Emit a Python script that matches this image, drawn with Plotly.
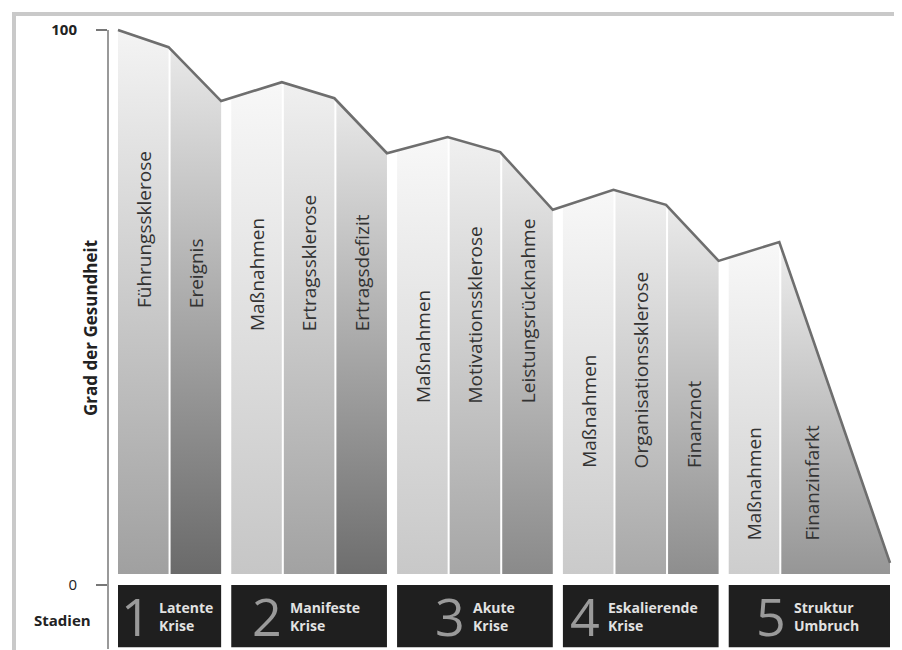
import numpy as np
import plotly.graph_objects as go

# ---------------- data ----------------
stage_numbers = ["1", "2", "3", "4", "5"]
stage_names = ["Latente<br>Krise", "Manifeste<br>Krise", "Akute<br>Krise",
               "Eskalierende<br>Krise", "Struktur<br>Umbruch"]
column_labels = ["Führungssklerose", "Ereignis",
                 "Maßnahmen", "Ertragssklerose", "Ertragsdefizit",
                 "Maßnahmen", "Motivationssklerose", "Leistungsrücknahme",
                 "Maßnahmen", "Organisationssklerose", "Finanznot",
                 "Maßnahmen", "Finanzinfarkt"]
column_stage = [0, 0, 1, 1, 1, 2, 2, 2, 3, 3, 3, 4, 4]
health_start = 100
health_end = [96.9, 87.2, 90.6, 87.7, 77.8, 80.7, 78.0, 67.6, 71.2, 68.5, 58.4, 61.8, 4.0]
label_level = [49.5, 45.4, 32.4, 20.7, 7.6]   # lower end of column labels, per stage
y_tick_vals = [0, 100]
y_tick_text = ["0", "<b>100</b>"]

# ---------------- style / layout constants ----------------
FONT = "Open Sans"
col_units = [1] * 12 + [2.15]
INNER_GAP, STAGE_GAP = 0.04, 0.2
BASE = 2.0
BOX_BOTTOM = -11.2
bottom_colors = ["#a0a0a0", "#6a6a6a",
                 "#c6c6c6", "#a2a2a2", "#6e6e6e",
                 "#c8c8c8", "#a6a6a6", "#8a8a8a",
                 "#cacaca", "#a8a8a8", "#8e8e8e",
                 "#cdcdcd", "#969696"]
top_colors = ["#f4f4f4", "#e8e8e8",
              "#f8f8f8", "#f0f0f0", "#e8e8e8",
              "#f8f8f8", "#f0f0f0", "#eaeaea",
              "#f8f8f8", "#f0f0f0", "#eaeaea",
              "#f8f8f8", "#ececec"]

OFF = 8                      # page body margin of the browser
W, H = 902 - OFF, 650 - OFF
ML, MR, MT, MB = 108 - OFF, 10, 25 - OFF, 1
YR = [-11.53, 100.9]

# column positions (computed from layout units)
n = len(column_labels)
xs, xe = [], []
x = 0.0
for i in range(n):
    if i > 0:
        x += STAGE_GAP if column_stage[i] != column_stage[i - 1] else INNER_GAP
    xs.append(x)
    x += col_units[i]
    xe.append(x)
x_total = x
ppu = 772 / x_total
XR = [-10 / ppu, x_total + 2 / ppu]

vx = [xs[0]] + xe
vy = [health_start] + health_end


def top_at(xx):
    return float(np.interp(xx, vx, vy))


def px2paper(px):
    return (px - OFF - ML) / (W - ML - MR)


def py2paper(py):
    return 1 - (py - OFF - MT) / (H - MT - MB)


fig = go.Figure()

for i in range(n):
    fig.add_trace(go.Scatter(
        x=[xs[i], xs[i], xe[i], xe[i], xs[i]],
        y=[BASE, top_at(xs[i]), top_at(xe[i]), BASE, BASE],
        mode="lines", fill="toself", line=dict(width=0),
        fillcolor=bottom_colors[i],
        fillgradient=dict(type="vertical",
                          colorscale=[[0, bottom_colors[i]], [1, top_colors[i]]]),
        hoverinfo="skip", showlegend=False))

fig.add_trace(go.Scatter(x=vx, y=vy, mode="lines",
                         line=dict(color="#6e6e6e", width=2.6),
                         hoverinfo="skip", showlegend=False))

shapes = []
annotations = []

# axis line
shapes.append(dict(type="line", xref="paper", yref="y", x0=0, x1=0,
                   y0=100, y1=YR[0], line=dict(color="#777777", width=1.5)))

# stage boxes
for s in range(len(stage_numbers)):
    idx = [i for i in range(n) if column_stage[i] == s]
    x0, x1 = xs[idx[0]], xe[idx[-1]]
    shapes.append(dict(type="rect", xref="x", yref="y", x0=x0, x1=x1,
                       y0=0, y1=BOX_BOTTOM, fillcolor="#1f1f1f",
                       line=dict(width=0), layer="above"))
    lines = stage_names[s].split("<br>")
    tw = 8.8 * max(len(l) for l in lines)
    group = 30 + 10 + tw
    cx = (x0 + x1) / 2
    ymid = BOX_BOTTOM / 2
    annotations.append(dict(x=cx, y=ymid, xref="x", yref="y", text=stage_numbers[s],
                            showarrow=False, xanchor="left", yanchor="middle",
                            xshift=-group / 2, yshift=1,
                            font=dict(family=FONT, size=52, color="#9a9a9a")))
    annotations.append(dict(x=cx, y=ymid, xref="x", yref="y",
                            text="<b>" + stage_names[s] + "</b>",
                            showarrow=False, xanchor="left", yanchor="middle",
                            align="left", xshift=-group / 2 + 38,
                            font=dict(family=FONT, size=14, color="#e2e2e2")))

# column labels
for i in range(n):
    lx = xs[i] + min(0.5 * col_units[i], 0.6)
    annotations.append(dict(x=lx, y=label_level[column_stage[i]],
                            xref="x", yref="y", text=column_labels[i],
                            textangle=-90, showarrow=False,
                            xanchor="center", yanchor="bottom",
                            font=dict(family=FONT, size=19, color="#333333")))

# axis title and row label
annotations.append(dict(x=px2paper(90), y=py2paper(328), xref="paper", yref="paper",
                        text="<b>Grad der Gesundheit</b>", textangle=-90,
                        showarrow=False, xanchor="center", yanchor="middle",
                        font=dict(family=FONT, size=17, color="#222222")))
annotations.append(dict(x=px2paper(62), y=py2paper(620), xref="paper", yref="paper",
                        text="<b>Stadien</b>", showarrow=False,
                        xanchor="center", yanchor="middle",
                        font=dict(family=FONT, size=15, color="#222222")))

# outer frame
frame_col = "#c9c9c9"
shapes.append(dict(type="line", xref="paper", yref="paper",
                   x0=px2paper(12), x1=px2paper(901), y0=py2paper(14), y1=py2paper(14),
                   line=dict(color=frame_col, width=4)))
shapes.append(dict(type="line", xref="paper", yref="paper",
                   x0=px2paper(14), x1=px2paper(14), y0=py2paper(12), y1=py2paper(652),
                   line=dict(color=frame_col, width=4)))
shapes.append(dict(type="line", xref="paper", yref="paper",
                   x0=px2paper(900), x1=px2paper(900), y0=py2paper(12), y1=py2paper(652),
                   line=dict(color=frame_col, width=2)))

fig.update_layout(
    width=W, height=H,
    margin=dict(l=ML, r=MR, t=MT, b=MB),
    paper_bgcolor="white", plot_bgcolor="white",
    shapes=shapes, annotations=annotations,
    showlegend=False,
    xaxis=dict(range=XR, visible=False, fixedrange=True),
    yaxis=dict(range=YR, showgrid=False, zeroline=False, showline=False,
               tickvals=y_tick_vals, ticktext=y_tick_text,
               ticks="outside", ticklen=11, tickwidth=1.5, tickcolor="#777777",
               ticklabelstandoff=16,
               tickfont=dict(family=FONT, size=15, color="#222222"),
               fixedrange=True),
)

fig.write_html("out.html")
